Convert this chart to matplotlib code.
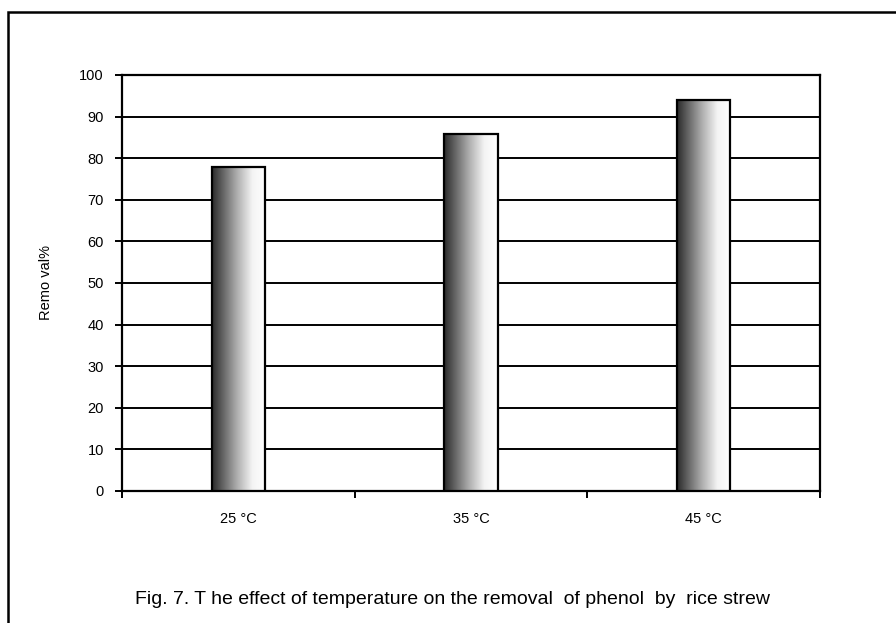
import matplotlib
matplotlib.use("Agg")
import matplotlib.pyplot as plt
import numpy as np
from matplotlib.colors import LinearSegmentedColormap
from matplotlib.patches import Rectangle

categories = ["25 °C", "35 °C", "45 °C"]
removal = [78, 85.7, 93.9]
yticks = list(range(0, 101, 10))

plt.rcParams['font.family'] = ['Liberation Sans', 'DejaVu Sans']

fig = plt.figure(figsize=(8.96, 6.23), dpi=100)
ax = fig.add_axes([122/896, 1-491/623, (820-122)/896, (491-75)/623])

x = np.arange(len(categories))
width = 0.23
bars = ax.bar(x, removal, width=width, facecolor='none', edgecolor='black', linewidth=1.6, zorder=4)

cmap = LinearSegmentedColormap.from_list('g', [(0, '#2a2a2a'), (0.15, '#555555'), (0.45, '#aaaaaa'), (0.75, '#f4f4f4'), (1.0, '#ffffff')])
grad = np.linspace(0, 1, 256).reshape(1, -1)
for b in bars:
    x0, w, h = b.get_x(), b.get_width(), b.get_height()
    ax.imshow(grad, cmap=cmap, aspect='auto', extent=[x0, x0 + w, 0, h], zorder=3, interpolation='bilinear')

ax.set_xlim(-0.5, len(categories) - 0.5)
ax.set_ylim(0, 100)
ax.set_yticks(yticks)
ax.set_yticklabels([str(t) for t in yticks], fontsize=10.5)
ax.yaxis.grid(True, color='black', linewidth=1.4, zorder=1)
ax.set_axisbelow(True)

ax.set_xticks(x)
ax.set_xticklabels(categories, fontsize=10.5)
ax.set_xticks(np.arange(-0.5, len(categories) + 0.5, 1), minor=True)
ax.tick_params(axis='x', which='major', length=0, pad=15)
ax.tick_params(axis='x', which='minor', length=5, width=1.4, direction='out')
ax.tick_params(axis='y', length=5, width=1.4, direction='out', pad=8)

for s in ax.spines.values():
    s.set_linewidth(1.6)
    s.set_color('black')

ax.set_ylabel('Remo val%', fontsize=10.5, labelpad=19)

fig.text(452/896, 1-599/623, 'Fig. 7. T he effect of temperature on the removal  of phenol  by  rice strew',
         ha='center', va='center', fontsize=14)

fig.patches.append(Rectangle((8/896, -0.2), 1.2, 1 - 12/623 + 0.2, transform=fig.transFigure,
                             fill=False, edgecolor='black', linewidth=1.8))

fig.savefig('out.png', dpi=100, facecolor='white')
